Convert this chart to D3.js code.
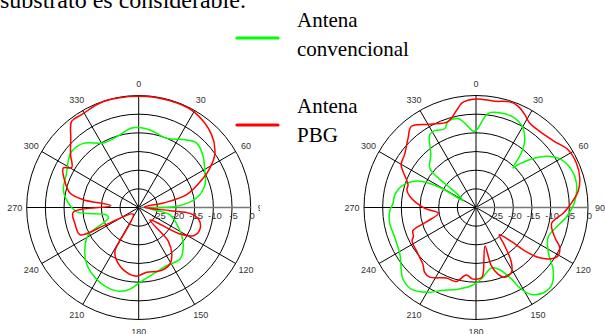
<!DOCTYPE html>
<html>
<head>
<meta charset="utf-8">
<script src="https://cdn.jsdelivr.net/npm/d3@7"></script>
<style>
    body { margin: 0; background: #fff; }
    svg { display: block; }
</style>
</head>
<body>
<svg id="chart" width="605" height="334"></svg>
<script>
// ticks
const angleTicks = [0, 30, 60, 90, 120, 150, 180, 210, 240, 270, 300, 330]
const dbTicks = [-25, -20, -15, -10, -5, 0]
const dbMin = -30

// [angulo, dB] - diagrama izquierdo
const izqConvencional = [
    [0, -8.6], [8.3, -9], [22, -10], [35.4, -7.8], [42, -6.8], [50.5, -7.8], [61.4, -9.8], [71, -11.2],
    [80.7, -14.3], [88, -19.5], [95, -27], [103, -21.5], [113, -19], [123.3, -16.2], [131.7, -14],
    [141.3, -12.3], [154.3, -12.7], [167.6, -11.8], [179, -10], [186.1, -8], [192.6, -7], [201.9, -7],
    [212, -7.9], [222.6, -9.4], [233.5, -12.1], [241.4, -14.6], [250.5, -21.4], [256.8, -21.2],
    [266, -13.4], [273.7, -11.1], [283, -9.3], [295.4, -8.6], [304, -7.3], [309.8, -6.6], [319.2, -7.3],
    [331.2, -10.3], [338, -10.4], [345.5, -9.9], [353.7, -8.7]
]
const izqPBG = [
    [0, -0.2], [16, -0.2], [30, -0.4], [45, -2.4], [55, -5.1], [61, -8.2], [65.5, -11], [75, -16.7],
    [79.6, -23.3], [86, -28.5], [95.8, -21.6], [96.5, -16.2], [100.9, -13.7], [109.3, -12.6],
    [117.3, -13.5], [122.7, -16.9], [137.9, -25.5], [138.5, -18.1], [144.6, -14.7], [151, -12.7],
    [161.4, -12.1], [173, -12.5], [182, -11.6], [190.5, -12.3], [202.5, -14.6], [208.7, -16.8],
    [209.4, -19.8], [219.7, -27.7], [242.3, -20.3], [245.1, -12.7], [255.5, -12.4], [265.8, -12.4],
    [273.5, -22.5], [278, -15], [281.9, -11.2], [289.6, -9], [297.6, -7.2], [300.9, -9.1],
    [307.8, -6.9], [315.6, -4], [322.1, -0.75], [328.4, -0.8], [341.6, -0.1]
]

// [angulo, dB] - diagrama derecho
const derConvencional = [
    [0, -9.4], [7.4, -4.6], [15, -3.8], [23.4, -3.9], [30.6, -5.3], [36.3, -8], [39.7, -11],
    [43.1, -15.5], [44.5, -13.9], [49.9, -9.4], [54.6, -6.3], [60.7, -3.8], [68.4, -2.5], [76.3, -2.3],
    [86.4, -3.5], [95.8, -5.6], [101.6, -7.3], [112.5, -9.1], [122.6, -6.9], [128.6, -3.6],
    [135.2, -1.1], [141, -0.8], [147.6, -2.4], [151, -5], [154.2, -9.2], [160.3, -12.5], [165.8, -13.3],
    [175.8, -10.8], [183.4, -9], [192.5, -7.6], [202.6, -5.9], [209.5, -3.9], [218.4, -2.1],
    [225.6, -2.6], [238.6, -6.1], [249.9, -6.8], [260.3, -6.5], [267.9, -6.9], [272.4, -7.7], [279, -8],
    [285.8, -9.2], [293.1, -12.1], [296.4, -14.6], [299.3, -19.3], [298, -26], [305.4, -24.1],
    [307.5, -20], [308.2, -16.5], [310.5, -13.7], [319.4, -11.4], [327.5, -6.9], [331.7, -6.6],
    [338.3, -7.3], [342, -5.7], [348.5, -5.7], [352.4, -7.2], [357.7, -9.5]
]
const derPBG = [
    [1, -0.9], [10, -1.1], [17.7, -0.3], [22.5, -0.6], [27.7, -1.9], [32.4, -3.2], [39.9, -3.4],
    [50, -2.5], [57.9, -0.9], [66.1, -0.6], [74.1, -1.1], [81, -2.3], [88.5, -4.8], [93.8, -6.6],
    [101.8, -9.3], [110.7, -7.45], [115.4, -5.2], [120.4, -4.5], [124.9, -5.9], [128.8, -8.7],
    [131.6, -12.6], [134, -17], [139.5, -20.4], [143.1, -17.2], [147.2, -12.5], [151.4, -10.2],
    [157.6, -9.8], [161.7, -11.2], [165.3, -13.9], [166.8, -19.4], [173.7, -12.3], [175.3, -11.2],
    [182.4, -10.8], [188.2, -11.7], [194.9, -9.5], [202.8, -9.5], [213.6, -7.6], [218.4, -7.85],
    [223.2, -9.2], [231.3, -10.1], [242.6, -10.7], [245, -11.5], [249.8, -12], [253.9, -16.3],
    [261.3, -19.8], [269, -16.3], [279.3, -12.1], [284.2, -10.9], [288.5, -10.8], [299.8, -6.9],
    [306.5, -6.2], [315.6, -4], [321.5, -2.2], [331, -4.5], [342, -5.8], [348.8, -3.4], [352.2, -1.8],
    [355.7, -1.2]
]

const legendLabels = [['Antena', 'convencional'], ['Antena', 'PBG']]
const colors = { conv: '#00ff00', pbg: '#ff0000' }

const R = 112
const svg = d3.select('#chart')

svg.append('text')
    .attr('x', 0)
    .attr('y', 7.5)
    .attr('font-family', 'Liberation Serif, Times New Roman, serif')
    .attr('font-size', '24px')
    .text('substrato es considerable.')

svg.append('defs').append('clipPath').attr('id', 'clipIzq')
    .append('rect').attr('x', 0).attr('y', 60).attr('width', 260).attr('height', 280)

function polar(cx, cy, series, clip) {
    let r = d3.scaleLinear().domain([dbMin, 0]).range([0, R])
    let g = svg.append('g')
    if (clip) g.attr('clip-path', 'url(#' + clip + ')')
    let inner = g.append('g')
        .attr('transform', 'translate(' + cx + ',' + cy + ')')

    // circulos
    inner.selectAll('circle.ring')
        .data(dbTicks)
        .enter()
        .append('circle')
        .attr('r', d => r(d))
        .attr('fill', 'none')
        .attr('stroke', '#000')
        .attr('stroke-width', 1)

    // radios
    inner.selectAll('line.spoke')
        .data(angleTicks.filter(a => a != 90))
        .enter()
        .append('line')
        .attr('x2', d => R * Math.sin(d * Math.PI / 180))
        .attr('y2', d => -R * Math.cos(d * Math.PI / 180))
        .attr('stroke', '#000')
        .attr('stroke-width', 1)
    inner.append('line')
        .attr('x2', R)
        .attr('stroke', '#777')
        .attr('stroke-width', 1.6)

    inner.selectAll('text.ang')
        .data(angleTicks)
        .enter()
        .append('text')
        .attr('x', d => (R + 12) * Math.sin(d * Math.PI / 180))
        .attr('y', d => -(R + 12) * Math.cos(d * Math.PI / 180))
        .attr('dy', '0.35em')
        .attr('text-anchor', 'middle')
        .attr('font-family', 'Liberation Sans, Arial, sans-serif')
        .attr('font-size', '9px')
        .attr('fill', '#333')
        .text(d => d)

    inner.selectAll('text.db')
        .data(dbTicks)
        .enter()
        .append('text')
        .attr('x', d => r(d) + 1.5)
        .attr('y', 11)
        .attr('text-anchor', 'middle')
        .attr('font-family', 'Liberation Sans, Arial, sans-serif')
        .attr('font-size', '9.5px')
        .attr('fill', '#333')
        .text(d => d)

    let line = d3.lineRadial()
        .angle(d => d[0] * Math.PI / 180)
        .radius(d => r(d[1]))
        .curve(d3.curveCatmullRomClosed.alpha(0.5))

    series.forEach(s => {
        inner.append('path')
            .datum(s.data)
            .attr('d', line)
            .attr('fill', 'none')
            .attr('stroke', s.color)
            .attr('stroke-width', 1.5)
            .attr('stroke-linejoin', 'round')
    })
}

polar(138.7, 207.5, [
    { data: izqConvencional, color: colors.conv },
    { data: izqPBG, color: colors.pbg },
], 'clipIzq')
polar(476, 207.5, [
    { data: derConvencional, color: colors.conv },
    { data: derPBG, color: colors.pbg },
])

// leyenda
let legend = svg.append('g')
legend.selectAll('line')
    .data([colors.conv, colors.pbg])
    .enter()
    .append('line')
    .attr('x1', 237)
    .attr('x2', 278)
    .attr('y1', (d, i) => 38 + i * 87)
    .attr('y2', (d, i) => 38 + i * 87)
    .attr('stroke', d => d)
    .attr('stroke-width', 3.2)
    .attr('stroke-linecap', 'round')
legendLabels.forEach((lines, i) => {
    lines.forEach((t, j) => {
        legend.append('text')
            .attr('x', 297)
            .attr('y', 27 + i * 86 + j * 28.5)
            .attr('font-family', 'Liberation Serif, Times New Roman, serif')
            .attr('font-size', '21px')
            .attr('fill', '#000')
            .text(t)
    })
})
</script>
</body>
</html>
